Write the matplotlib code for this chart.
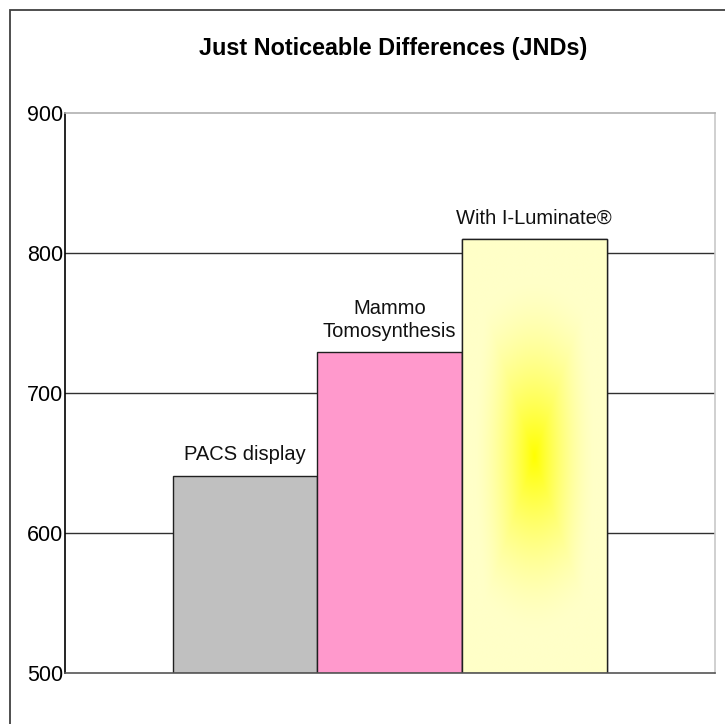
import matplotlib
matplotlib.use("Agg")
import matplotlib.pyplot as plt
import numpy as np
from matplotlib.patches import Rectangle

categories = ["PACS display", "Mammo\nTomosynthesis", "With I-Luminate®"]
values = [641, 729, 810]
colors = ["#C0C0C0", "#FF99CC", "#FFFFC8"]
yticks = [500, 600, 700, 800, 900]
title = "Just Noticeable Differences (JNDs)"

plt.rcParams['font.family'] = ['Liberation Sans', 'DejaVu Sans']

fig = plt.figure(figsize=(7.25, 7.24), dpi=100)
fig.patch.set_facecolor('white')

# outer border
fig.patches.append(Rectangle((10/725, -0.05), 1.2, 1 - 10/724 + 0.05,
                             transform=fig.transFigure, fill=False,
                             edgecolor='#404040', linewidth=1.3))

ax = fig.add_axes([65/725, 1 - 673/724, 650/725, 560/724])
ax.set_ylim(500, 900)
ax.set_xlim(-1.245, 3.25)

for y in yticks[1:-1]:
    ax.axhline(y, color='#303030', linewidth=1.0, zorder=0)

x = np.arange(len(categories))
bars = ax.bar(x, [v - 500 for v in values], bottom=500, width=1.0,
              color=colors, edgecolor='#202020', linewidth=1.0, zorder=2)

# gradient in the third bar (bright centre fading to pale edges)
b = bars[2]
bx, by = b.get_x(), b.get_y()
bw, bh = b.get_width(), b.get_height()
n = 300
gx = np.linspace(-1, 1, n)
gy = np.linspace(-1, 1, n)
GX, GY = np.meshgrid(gx, gy)
r = np.sqrt((GX / 0.85) ** 2 + (GY / 0.8) ** 2)
box = np.maximum(np.abs(GX) / 0.85, np.abs(GY) / 0.85)
d = np.clip(0.5 * r + 0.5 * box, 0, 1)
w = (1 - d) ** 1.6
edge = np.array([1.0, 1.0, 200/255])
center = np.array([1.0, 1.0, 0.0])
img = edge[None, None, :] * (1 - w[..., None]) + center[None, None, :] * w[..., None]
im = ax.imshow(img, extent=[bx, bx + bw, by, by + bh], aspect='auto',
               zorder=2.5, interpolation='bilinear')
im.set_clip_path(b)
ax.add_patch(Rectangle((bx, by), bw, bh, fill=False, edgecolor='#202020',
                       linewidth=1.0, zorder=3))

for xi, v, lab in zip(x, values, categories):
    ax.annotate(lab, (xi, v), xytext=(0, 8), textcoords='offset points',
                ha='center', va='bottom', fontsize=14.5, color='#111111',
                linespacing=1.3, zorder=4)

ax.set_yticks(yticks)
ax.set_yticklabels([str(t) for t in yticks], fontsize=15.5)
ax.tick_params(axis='y', length=0, pad=1)
ax.set_xticks([])

ax.spines['left'].set_color('#000000')
ax.spines['bottom'].set_color('#555555')
ax.spines['top'].set_color('#B0B0B0')
ax.spines['right'].set_color('#C8C8C8')
for s in ax.spines.values():
    s.set_linewidth(1.2)
    s.set_zorder(5)

fig.text(393/725, 1 - 48/724, title, ha='center', va='center',
         fontsize=16.8, fontweight='bold')

fig.savefig("out.png", dpi=100)
